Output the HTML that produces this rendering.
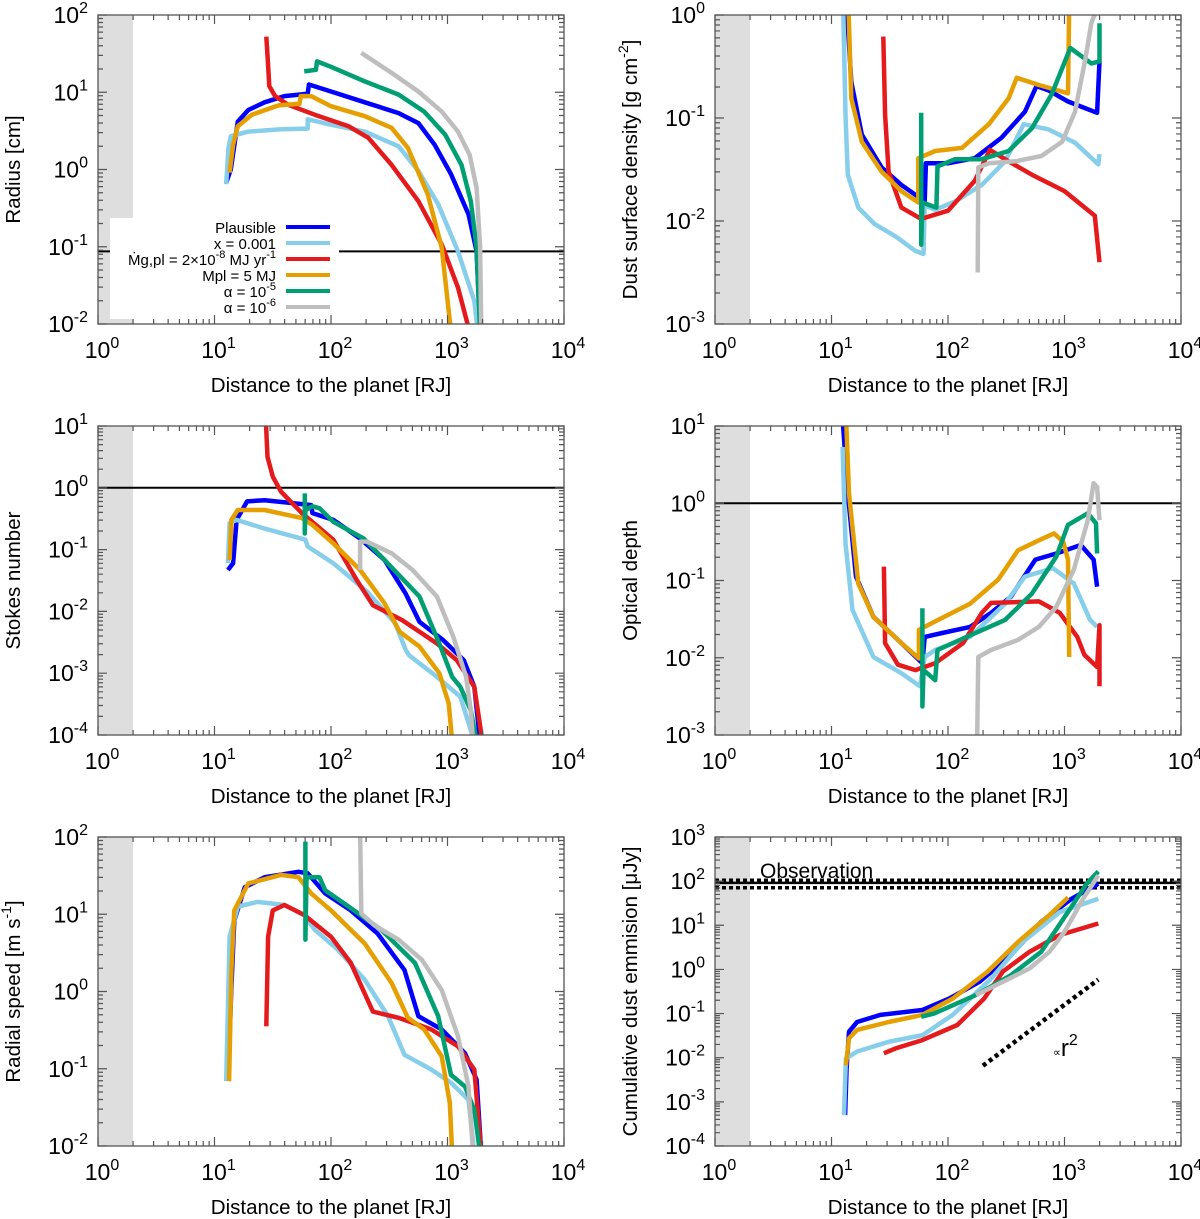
<!DOCTYPE html>
<html><head><meta charset="utf-8">
<style>
html,body{margin:0;padding:0;background:#fff;}
svg{display:block;font-family:"Liberation Sans",Arial,sans-serif;}
</style></head>
<body>
<svg id="fig" width="1200" height="1219" viewBox="0 0 1200 1219" xmlns="http://www.w3.org/2000/svg"></svg>
<script>
// All values are [log10(distance in RJ), log10(value)]
const seriesNames = ["Plausible","x = 0.001","Mg,pl","Mpl = 5 MJ","alpha 1e-5","alpha 1e-6"];
const seriesColors = ["#0000ff","#87ceeb","#e41a1c","#e69f00","#009e73","#bebebe"];

// Panel 1: Radius [cm]
const radiusPlausible = [[1.10,-0.17],[1.14,0.0],[1.20,0.62],[1.29,0.77],[1.43,0.87],[1.60,0.95],[1.80,0.98],[1.81,1.10],[2.0,1.01],[2.29,0.87],[2.58,0.73],[2.75,0.60],[2.89,0.32],[3.03,-0.06],[3.18,-0.58],[3.25,-1.06],[3.28,-2.1]];
const radiusX001 = [[1.10,-0.19],[1.12,0.28],[1.14,0.43],[1.29,0.49],[1.57,0.52],[1.80,0.53],[1.80,0.65],[2.0,0.58],[2.29,0.49],[2.58,0.30],[2.75,-0.02],[2.92,-0.45],[3.09,-1.06],[3.23,-1.70],[3.26,-2.1]];
const radiusMdot = [[1.445,1.72],[1.46,1.35],[1.47,1.08],[1.52,0.95],[1.63,0.84],[1.86,0.71],[2.15,0.56],[2.32,0.41],[2.52,0.06],[2.75,-0.41],[2.95,-0.97],[3.09,-1.53],[3.19,-2.1]];
const radiusMpl5 = [[1.13,-0.04],[1.16,0.32],[1.20,0.56],[1.32,0.71],[1.55,0.83],[1.73,0.85],[1.74,0.95],[1.83,0.95],[2.0,0.82],[2.29,0.69],[2.52,0.54],[2.66,0.28],[2.83,-0.32],[2.95,-1.01],[3.03,-2.1]];
const radiusAlpha5 = [[1.77,1.27],[1.87,1.29],[1.88,1.40],[2.0,1.33],[2.29,1.14],[2.58,0.97],[2.80,0.75],[2.98,0.45],[3.12,0.06],[3.20,-0.41],[3.25,-1.01],[3.28,-2.1]];
const radiusAlpha6 = [[2.26,1.51],[2.52,1.25],[2.75,1.01],[2.95,0.75],[3.09,0.49],[3.19,0.19],[3.25,-0.24],[3.28,-1.01],[3.29,-2.1]];
const radiusHLine = [-1.06];

// Panel 2: Dust surface density
const sigmaPlausible = [[1.13,0.1],[1.17,-0.65],[1.26,-1.16],[1.43,-1.48],[1.60,-1.65],[1.75,-1.77],[1.80,-1.81],[1.81,-1.44],[2.0,-1.44],[2.23,-1.39],[2.46,-1.19],[2.66,-0.94],[2.76,-0.69],[2.86,-0.73],[3.03,-0.84],[3.28,-0.95],[3.30,-0.45]];
const sigmaX001 = [[1.10,0.1],[1.12,-0.97],[1.14,-1.55],[1.23,-1.87],[1.37,-2.03],[1.55,-2.15],[1.72,-2.29],[1.79,-2.32],[1.80,-1.85],[1.89,-1.89],[2.06,-1.81],[2.29,-1.65],[2.49,-1.42],[2.65,-1.06],[2.86,-1.11],[3.09,-1.24],[3.29,-1.45],[3.30,-1.35]];
const sigmaMdot = [[1.445,-0.21],[1.46,-0.97],[1.49,-1.52],[1.60,-1.87],[1.77,-1.98],[2.0,-1.90],[2.23,-1.61],[2.36,-1.31],[2.52,-1.42],[2.72,-1.55],[3.00,-1.71],[3.26,-1.95],[3.30,-2.40]];
const sigmaMpl5 = [[1.145,0.1],[1.17,-0.81],[1.26,-1.23],[1.43,-1.52],[1.60,-1.71],[1.745,-1.82],[1.745,-1.39],[1.89,-1.32],[2.12,-1.29],[2.35,-1.06],[2.52,-0.81],[2.59,-0.61],[2.78,-0.68],[3.03,-0.76],[3.04,0.1]];
const sigmaAlpha5 = [[1.77,-0.95],[1.77,-2.23],[1.78,-1.82],[1.90,-1.87],[1.91,-1.47],[2.06,-1.40],[2.29,-1.40],[2.52,-1.32],[2.72,-1.10],[2.89,-0.77],[3.05,-0.32],[3.23,-0.47],[3.30,-0.45],[3.30,-0.08]];
const sigmaAlpha6 = [[2.255,-2.50],[2.26,-1.48],[2.35,-1.44],[2.58,-1.42],[2.80,-1.37],[2.98,-1.23],[3.09,-0.94],[3.18,-0.42],[3.23,-0.08],[3.29,0.1]];

// Panel 3: Stokes number
const stokesPlausible = [[1.115,-1.33],[1.16,-1.22],[1.19,-0.52],[1.28,-0.22],[1.43,-0.20],[1.63,-0.24],[1.83,-0.28],[1.84,-0.41],[2.02,-0.52],[2.25,-0.82],[2.46,-1.17],[2.64,-1.71],[2.76,-2.17],[2.96,-2.46],[3.14,-2.79],[3.23,-3.22],[3.28,-4.1]];
const stokesX001 = [[1.115,-1.22],[1.13,-0.57],[1.19,-0.52],[1.43,-0.66],[1.78,-0.84],[1.80,-0.95],[2.02,-1.22],[2.31,-1.68],[2.55,-2.19],[2.64,-2.62],[2.67,-2.71],[2.91,-3.06],[3.11,-3.38],[3.23,-4.1]];
const stokesMdot = [[1.44,1.1],[1.455,0.50],[1.50,0.18],[1.57,-0.06],[1.75,-0.41],[2.02,-0.84],[2.22,-1.49],[2.36,-1.90],[2.61,-2.14],[2.91,-2.52],[3.08,-2.79],[3.23,-3.22],[3.30,-4.1]];
const stokesMpl5 = [[1.13,-1.17],[1.145,-0.52],[1.20,-0.36],[1.43,-0.36],[1.75,-0.49],[1.84,-0.60],[2.02,-0.90],[2.25,-1.33],[2.46,-1.87],[2.59,-2.33],[2.76,-2.57],[2.93,-3.00],[3.01,-3.49],[3.04,-4.1]];
const stokesAlpha5 = [[1.775,-0.09],[1.775,-0.74],[1.78,-0.36],[1.84,-0.30],[1.90,-0.33],[2.02,-0.55],[2.28,-0.82],[2.46,-1.17],[2.76,-1.76],[2.93,-2.52],[3.04,-3.06],[3.11,-3.22],[3.20,-3.60],[3.25,-4.1]];
const stokesAlpha6 = [[2.25,-1.33],[2.25,-0.87],[2.31,-0.87],[2.52,-1.06],[2.70,-1.33],[2.91,-1.76],[3.05,-2.41],[3.16,-3.06],[3.20,-3.60],[3.22,-4.1]];
const stokesHLine = [0];

// Panel 4: Optical depth
const tauPlausible = [[1.095,1.1],[1.14,0.13],[1.21,-0.95],[1.36,-1.47],[1.60,-1.81],[1.78,-2.07],[1.80,-1.73],[1.95,-1.68],[2.19,-1.60],[2.37,-1.42],[2.54,-1.21],[2.75,-0.73],[2.93,-0.65],[3.14,-0.54],[3.25,-0.73],[3.28,-1.08]];
const tauX001 = [[1.095,0.73],[1.12,-0.52],[1.18,-1.38],[1.36,-1.99],[1.60,-2.20],[1.76,-2.37],[1.80,-1.99],[1.89,-1.90],[2.19,-1.73],[2.49,-1.30],[2.66,-0.95],[2.90,-0.84],[3.08,-1.04],[3.22,-1.51],[3.28,-1.60]];
const tauMdot = [[1.45,-0.82],[1.46,-1.81],[1.57,-2.09],[1.72,-2.16],[1.89,-2.07],[2.13,-1.81],[2.29,-1.42],[2.37,-1.29],[2.78,-1.27],[2.96,-1.42],[3.11,-1.73],[3.17,-1.96],[3.28,-2.12],[3.30,-1.58],[3.30,-2.37]];
const tauMpl5 = [[1.125,1.1],[1.15,0.13],[1.23,-1.04],[1.36,-1.47],[1.60,-1.81],[1.75,-2.01],[1.75,-1.64],[1.89,-1.53],[2.19,-1.30],[2.43,-0.99],[2.60,-0.61],[2.78,-0.48],[2.91,-0.39],[2.99,-0.50],[3.03,-0.73],[3.04,-1.99]];
const tauAlpha5 = [[1.78,-1.36],[1.78,-2.63],[1.79,-2.16],[1.89,-2.29],[1.91,-1.90],[2.10,-1.77],[2.49,-1.51],[2.72,-1.17],[2.93,-0.69],[3.03,-0.28],[3.20,-0.13],[3.27,-0.26],[3.28,-0.65]];
const tauAlpha6 = [[2.25,-3.1],[2.26,-1.99],[2.37,-1.90],[2.60,-1.77],[2.78,-1.60],[2.93,-1.34],[3.08,-0.86],[3.20,-0.22],[3.25,0.26],[3.28,0.21],[3.30,-0.22]];
const tauHLine = [0];

// Panel 5: Radial speed
const speedPlausible = [[1.116,-1.16],[1.145,0.06],[1.17,0.92],[1.26,1.35],[1.43,1.48],[1.72,1.55],[1.80,1.53],[1.95,1.27],[2.17,1.05],[2.40,0.75],[2.63,0.28],[2.75,-0.32],[2.95,-0.49],[3.15,-0.80],[3.25,-1.14],[3.29,-2.1]];
const speedX001 = [[1.10,-1.16],[1.13,0.71],[1.20,1.10],[1.37,1.16],[1.60,1.12],[1.77,0.99],[1.86,0.80],[2.06,0.54],[2.29,0.15],[2.49,-0.32],[2.63,-0.82],[2.86,-1.01],[3.03,-1.18],[3.18,-1.40],[3.23,-2.1]];
const speedMdot = [[1.445,-0.45],[1.46,0.71],[1.50,1.05],[1.60,1.12],[1.77,0.99],[2.0,0.71],[2.17,0.37],[2.36,-0.26],[2.58,-0.34],[2.86,-0.49],[3.09,-0.71],[3.23,-1.01],[3.29,-2.1]];
const speedMpl5 = [[1.125,-1.16],[1.145,0.28],[1.17,1.05],[1.29,1.40],[1.57,1.51],[1.72,1.48],[1.83,1.27],[2.0,1.05],[2.29,0.62],[2.52,0.11],[2.66,-0.34],[2.80,-0.49],[2.95,-0.84],[3.02,-1.44],[3.04,-2.1]];
const speedAlpha5 = [[1.78,1.94],[1.78,0.67],[1.79,1.48],[1.90,1.48],[1.95,1.31],[2.15,1.10],[2.43,0.80],[2.72,0.37],[2.92,-0.32],[3.03,-1.08],[3.15,-1.23],[3.23,-1.53],[3.28,-2.1]];
const speedAlpha6 = [[2.25,2.1],[2.26,1.01],[2.37,0.86],[2.58,0.67],[2.78,0.41],[2.95,0.02],[3.09,-0.58],[3.18,-1.23],[3.22,-2.1]];

// Panel 6: Cumulative dust emission [uJy]
const fluxPlausible = [[1.117,-3.30],[1.13,-2.24],[1.15,-1.41],[1.22,-1.19],[1.42,-1.03],[1.78,-0.92],[2.01,-0.66],[2.27,-0.28],[2.54,0.32],[2.80,1.08],[3.06,1.60],[3.29,1.94]];
const fluxX001 = [[1.107,-3.30],[1.124,-2.02],[1.22,-1.86],[1.49,-1.64],[1.78,-1.49],[2.04,-1.03],[2.37,-0.21],[2.64,0.62],[2.96,1.30],[3.29,1.60]];
const fluxMdot = [[1.45,-1.90],[1.55,-1.79],[1.78,-1.60],[2.08,-1.26],[2.31,-0.66],[2.47,-0.05],[2.70,0.40],[2.96,0.78],[3.29,1.04]];
const fluxMpl5 = [[1.124,-2.17],[1.15,-1.56],[1.22,-1.37],[1.49,-1.19],[1.78,-1.03],[2.04,-0.66],[2.34,-0.05],[2.60,0.62],[2.87,1.23],[3.03,1.63]];
const fluxAlpha5 = [[1.77,-1.07],[1.88,-1.00],[2.24,-0.58],[2.54,-0.13],[2.80,0.40],[3.03,1.30],[3.19,1.94],[3.29,2.22]];
const fluxAlpha6 = [[2.24,-0.58],[2.47,-0.28],[2.70,0.02],[2.87,0.40],[3.00,0.85],[3.16,1.60],[3.29,2.13]];
const observationLog = [1.96];
const observationErrLog = [2.02, 1.85];
const r2Guide = [[2.30,-2.18],[3.29,-0.23]];

const NS = "http://www.w3.org/2000/svg";
const svg = document.getElementById("fig");
function mk(tag, attrs, parent){
  const e = document.createElementNS(NS, tag);
  for (const k in attrs) e.setAttribute(k, attrs[k]);
  (parent||svg).appendChild(e);
  return e;
}

const panels = [
  {id:"radius", x0:98, y0:15, ymin:-2, ymax:2, ylabel:"Radius [cm]", ylabSup:null, series:[radiusPlausible,radiusX001,radiusMdot,radiusMpl5,radiusAlpha5,radiusAlpha6], hline:radiusHLine, legend:true},
  {id:"sigma", x0:715, y0:15, ymin:-3, ymax:0, ylabel:"Dust surface density [g cm", ylabSup:"-2", ylabEnd:"]", series:[sigmaPlausible,sigmaX001,sigmaMdot,sigmaMpl5,sigmaAlpha5,sigmaAlpha6]},
  {id:"stokes", x0:98, y0:426, ymin:-4, ymax:1, ylabel:"Stokes number", series:[stokesPlausible,stokesX001,stokesMdot,stokesMpl5,stokesAlpha5,stokesAlpha6], hline:stokesHLine},
  {id:"tau", x0:715, y0:426, ymin:-3, ymax:1, ylabel:"Optical depth", series:[tauPlausible,tauX001,tauMdot,tauMpl5,tauAlpha5,tauAlpha6], hline:tauHLine},
  {id:"speed", x0:98, y0:837, ymin:-2, ymax:2, ylabel:"Radial speed [m s", ylabSup:"-1", ylabEnd:"]", series:[speedPlausible,speedX001,speedMdot,speedMpl5,speedAlpha5,speedAlpha6]},
  {id:"flux", x0:715, y0:837, ymin:-4, ymax:3, ylabel:"Cumulative dust emmision [\u03bcJy]", series:[fluxPlausible,fluxX001,fluxMdot,fluxMpl5,fluxAlpha5,fluxAlpha6], obs:true}
];
const W = 466, H = 309, XMIN = 0, XMAX = 4;

panels.forEach((p, pi) => {
  const g = mk("g", {});
  
  
  const sx = v => p.x0 + (v - XMIN) / (XMAX - XMIN) * W;
  const sy = v => p.y0 + (p.ymax - v) / (p.ymax - p.ymin) * H;
  const cid = "clip" + pi;
  const cp = mk("clipPath", {id:cid}, g);
  mk("rect", {x:p.x0, y:p.y0, width:W, height:H}, cp);

  const gr = mk("rect", {x:sx(0), y:p.y0, width:sx(Math.log10(2))-sx(0), height:H, fill:"#dedede"}, g);
  
  

  if (p.hline) {
    const hl = mk("line", {x1:p.x0, x2:p.x0+W, y1:sy(p.hline[0]), y2:sy(p.hline[0]), stroke:"#000", "stroke-width":2}, g);
    
    
  }
  if (p.obs) {
    const ol = mk("line", {x1:p.x0, x2:p.x0+W, y1:sy(observationLog[0]), y2:sy(observationLog[0]), stroke:"#000", "stroke-width":2.5}, g);
    
    
    observationErrLog.forEach(v => {
      const dl = mk("line", {x1:p.x0, x2:p.x0+W, y1:sy(v), y2:sy(v), stroke:"#000", "stroke-width":3.5, "stroke-dasharray":"4 3"}, g);
      
      
    });
    const ot = mk("text", {x:760, y:878, "font-size":21}, g);
    ot.textContent = "Observation";
    
    
    const gl = mk("line", {x1:sx(r2Guide[0][0]), y1:sy(r2Guide[0][1]), x2:sx(r2Guide[1][0]), y2:sy(r2Guide[1][1]), stroke:"#000", "stroke-width":4.5, "stroke-dasharray":"4 3.5"}, g);
    
    
    const rt = mk("text", {x:1053, y:1056, "font-size":24}, g);
    rt.innerHTML = '<tspan font-size="11">\u221d</tspan>r<tspan font-size="16" dy="-11">2</tspan>';
    
    
  }

  if (p.legend) {
    const lb = mk("rect", {x:110, y:218, width:229, height:101, fill:"#fff"}, g);
    
    
    const labels = ['Plausible','x = 0.001',
      'M\u0307g,pl = 2\u00d710<tspan font-size="11" dy="-7">-8</tspan><tspan dy="7"> MJ yr</tspan><tspan font-size="11" dy="-7">-1</tspan>',
      'Mpl = 5 MJ','\u03b1 = 10<tspan font-size="11" dy="-7">-5</tspan>','\u03b1 = 10<tspan font-size="11" dy="-7">-6</tspan>'];
    const rows = [227,243,259,275,291,307];
    labels.forEach((l, i) => {
      const t = mk("text", {x:276, y:rows[i]+6, "font-size":15, "text-anchor":"end"}, g);
      t.innerHTML = l;
      
      
      const ln = mk("line", {x1:286, x2:330, y1:rows[i], y2:rows[i], stroke:seriesColors[i], "stroke-width":4}, g);
      
      
    });
  }

  const sg = mk("g", {"clip-path":"url(#"+cid+")"}, g);
  p.series.forEach((s, i) => {
    const d = s.map((pt, k) => (k ? "L" : "M") + sx(pt[0]).toFixed(1) + "," + sy(pt[1]).toFixed(1)).join("");
    const path = mk("path", {d:d, fill:"none", stroke:seriesColors[i], "stroke-width":4.5, "stroke-linejoin":"round"}, sg);
    
    
  });

  const fr = mk("rect", {x:p.x0, y:p.y0, width:W, height:H, fill:"none", stroke:"#555", "stroke-width":1.3}, g);
  
  

  let tk = "";
  for (let e = XMIN; e <= XMAX; e++) {
    for (let m = 1; m <= 9; m++) {
      const v = e + Math.log10(m);
      if (v > XMAX) break;
      const L = m === 1 ? 9 : 5, x = sx(v);
      tk += `M${x},${p.y0+H}v${-L}M${x},${p.y0}v${L}`;
    }
  }
  for (let e = p.ymin; e <= p.ymax; e++) {
    for (let m = 1; m <= 9; m++) {
      const v = e + Math.log10(m);
      if (v > p.ymax) break;
      const L = m === 1 ? 9 : 5, y = sy(v);
      tk += `M${p.x0},${y}h${L}M${p.x0+W},${y}h${-L}`;
    }
  }
  const tp = mk("path", {d:tk, stroke:"#555", "stroke-width":1.2, fill:"none"}, g);
  
  

  for (let e = XMIN; e <= XMAX; e++) {
    const t = mk("text", {x:sx(e)+4, y:p.y0+H+34, "font-size":23, "text-anchor":"middle"}, g);
    t.innerHTML = '10<tspan font-size="16" dy="-10">' + e + '</tspan>';
    
    
  }
  for (let e = p.ymin; e <= p.ymax; e++) {
    const t = mk("text", {x:p.x0-10, y:sy(e)+8, "font-size":23, "text-anchor":"end"}, g);
    t.innerHTML = '10<tspan font-size="16" dy="-10">' + e + '</tspan>';
    
    
  }
  const xt = mk("text", {x:p.x0+W/2, y:p.y0+H+68, "font-size":20.5, "text-anchor":"middle"}, g);
  xt.textContent = "Distance to the planet [RJ]";
  
  
  const yx = p.x0 - 78, yy = p.y0 + H/2;
  const yt = mk("text", {x:yx, y:yy, "font-size":20.5, "text-anchor":"middle", transform:`rotate(-90 ${yx} ${yy})`}, g);
  if (p.ylabSup) yt.innerHTML = p.ylabel + '<tspan font-size="14" dy="-9">' + p.ylabSup + '</tspan><tspan dy="9">' + p.ylabEnd + '</tspan>';
  else yt.textContent = p.ylabel;
  
  
});
</script>
</body></html>
